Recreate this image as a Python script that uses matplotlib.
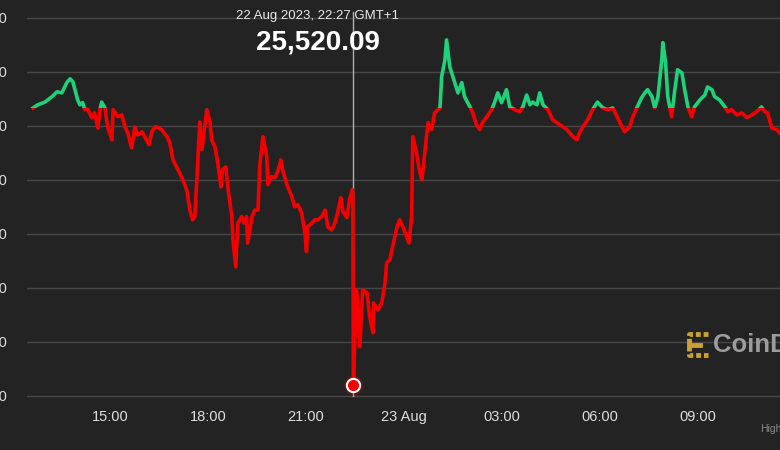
import matplotlib
matplotlib.use("Agg")
import matplotlib.pyplot as plt
from matplotlib.patches import Rectangle
from matplotlib.lines import Line2D

plt.rcParams['font.family'] = ['Liberation Sans', 'DejaVu Sans']

# minutes since 00:00 on 22 Aug 2023 (GMT+1)
MINUTES = [
    759, 768, 781, 794, 803, 812, 821, 827, 832, 836, 841, 845, 850, 854, 860, 867,
    872, 878, 882, 885, 891, 896, 904, 906, 915, 922, 928, 933, 940, 946, 951, 959,
    964, 972, 977, 983, 986, 995, 1005, 1010, 1016, 1025, 1034, 1041, 1047, 1052,
    1056, 1060, 1065, 1069, 1074, 1078, 1084, 1087, 1093, 1098, 1104, 1107, 1113,
    1117, 1124, 1126, 1131, 1135, 1142, 1146, 1151, 1153, 1161, 1166, 1172, 1175,
    1181, 1188, 1190, 1197, 1203, 1208, 1214, 1217, 1225, 1234, 1239, 1245, 1252,
    1258, 1261, 1263, 1271, 1276, 1282, 1289, 1295, 1300, 1307, 1313, 1318, 1324,
    1328, 1335, 1340, 1345, 1346, 1347, 1353, 1359, 1364, 1372, 1377, 1383, 1384,
    1392, 1399, 1405, 1408, 1414, 1419, 1427, 1432, 1438, 1445, 1449, 1454, 1456,
    1463, 1469, 1473, 1478, 1484, 1491, 1496, 1506, 1509, 1515, 1518, 1524, 1533,
    1539, 1546, 1551, 1561, 1566, 1573, 1579, 1584, 1592, 1601, 1606, 1612, 1619,
    1628, 1634, 1643, 1652, 1658, 1665, 1671, 1676, 1684, 1689, 1695, 1704, 1713,
    1726, 1739, 1750, 1757, 1762, 1768, 1777, 1786, 1795, 1805, 1814, 1823, 1832,
    1836, 1845, 1854, 1860, 1867, 1876, 1882, 1887, 1895, 1900, 1906, 1913, 1915,
    1920, 1924, 1931, 1937, 1942, 1950, 1955, 1961, 1968, 1973, 1983, 1992, 1997,
    2005, 2010, 2019, 2029, 2034, 2041, 2051, 2060, 2069, 2078, 2087, 2096, 2102,
    2107, 2115, 2124, 2129,
]
PRICES = [
    26033, 26039, 26044, 26054, 26063, 26061, 26080, 26087, 26082, 26067, 26048, 26039,
    26043, 26030, 26030, 26015, 26024, 25996, 26030, 26044, 26033, 25998, 25974, 26030,
    26017, 26020, 25998, 25987, 25959, 25998, 25983, 25989, 25980, 25965, 25989, 25998,
    25998, 25993, 25980, 25969, 25937, 25919, 25900, 25882, 25844, 25826, 25832, 25906,
    26007, 25956, 25998, 26030, 26006, 25974, 25961, 25932, 25887, 25919, 25924, 25882,
    25832, 25789, 25739, 25820, 25832, 25820, 25832, 25783, 25832, 25844, 25844, 25924,
    25980, 25943, 25891, 25906, 25904, 25915, 25937, 25919, 25891, 25869, 25850, 25854,
    25839, 25802, 25767, 25813, 25820, 25826, 25826, 25832, 25844, 25813, 25807, 25820,
    25839, 25867, 25841, 25830, 25863, 25882, 25869, 25520.09, 25696, 25591, 25696,
    25691, 25646, 25617, 25672, 25659, 25672, 25709, 25746, 25752, 25776, 25813, 25826,
    25813, 25794, 25783, 25832, 25980, 25950, 25913, 25900, 25950, 26006, 25993, 26024,
    26033, 26091, 26122, 26159, 26109, 26080, 26061, 26080, 26054, 26035, 26024, 26002,
    25993, 26006, 26017, 26030, 26043, 26061, 26043, 26067, 26035, 26030, 26026, 26035,
    26057, 26039, 26044, 26039, 26061, 26039, 26030, 26011, 26002, 25993, 25980, 25974,
    25987, 25998, 26011, 26030, 26044, 26033, 26030, 26033, 26015, 26006, 25989, 25998,
    26017, 26033, 26052, 26061, 26067, 26054, 26033, 26054, 26122, 26154, 26117, 26054,
    26017, 26067, 26104, 26098, 26067, 26035, 26017, 26035, 26048, 26057, 26072, 26067,
    26054, 26048, 26035, 26026, 26030, 26020, 26024, 26015, 26020, 26026, 26035, 26026,
    26024, 25996, 25993, 25987,
]

Y_TICKS = [25500, 25600, 25700, 25800, 25900, 26000, 26100, 26200]
X_TICKS = [900, 1080, 1260, 1440, 1620, 1800, 1980]
X_LABELS = ["15:00", "18:00", "21:00", "23 Aug", "03:00", "06:00", "09:00"]

HOVER_MINUTE = 1347
HOVER_PRICE = 25520.09
HOVER_LABEL = "22 Aug 2023, 22:27 GMT+1"

BG = "#232323"
GREEN = "#1fd27a"
RED = "#f50000"

baseline = PRICES[0]

fig = plt.figure(figsize=(7.8, 4.5), dpi=100, facecolor=BG)
ax = fig.add_axes([27 / 780, 46 / 450, 1 - 27 / 780, 404 / 450])
ax.set_facecolor(BG)
ax.set_xlim(748, 2130)
ax.set_ylim(25485, 26233)

for s in ax.spines.values():
    s.set_visible(False)

ax.set_yticks(Y_TICKS)
ax.set_yticklabels([f"{v:,}" for v in Y_TICKS])
ax.set_xticks(X_TICKS)
ax.set_xticklabels(X_LABELS)
ax.tick_params(axis='both', length=0, colors="#dedede", labelsize=10.5)
ax.tick_params(axis='y', pad=14.5)
ax.tick_params(axis='x', pad=4)
ax.grid(axis='y', color="#474747", linewidth=1)
ax.set_axisbelow(True)

# price line, green above the opening price and red below it
up, = ax.plot(MINUTES, PRICES, color=GREEN, lw=2.6, solid_joinstyle='round', zorder=3)
down, = ax.plot(MINUTES, PRICES, color=RED, lw=2.6, solid_joinstyle='round', zorder=3)
up.set_clip_path(Rectangle((0, baseline), 5000, 5000, transform=ax.transData))
down.set_clip_path(Rectangle((0, 0), 5000, baseline, transform=ax.transData))

# hover crosshair and point
ax.axvline(HOVER_MINUTE, ymin=0.02, ymax=0.97, color="#b0b0b0", lw=1, zorder=2)
ax.plot([HOVER_MINUTE], [HOVER_PRICE], 'o', ms=14, color=RED, alpha=0.25, mew=0, zorder=4)
ax.plot([HOVER_MINUTE], [HOVER_PRICE], 'o', ms=9.5, color=RED, mec="white", mew=1.5, zorder=5)

fig.text(318 / 780, 1 - 16 / 450, HOVER_LABEL, color="#e8e8e8", fontsize=9.5,
         ha='center', va='center')
fig.text(318 / 780, 1 - 42 / 450, f"{HOVER_PRICE:,.2f}", color="white", fontsize=20,
         fontweight='bold', ha='center', va='center')

# watermark
gold = "#c9a033"
fig.add_artist(Line2D([708 / 780, 689 / 780, 689 / 780, 708 / 780],
                      [1 - 334 / 450, 1 - 334 / 450, 1 - 355 / 450, 1 - 355 / 450],
                      color=gold, lw=3.5, linestyle=(0, (1, 0.6)),
                      solid_capstyle='round', transform=fig.transFigure))
fig.add_artist(Line2D([689 / 780, 700 / 780], [1 - 344.5 / 450, 1 - 344.5 / 450],
                      color=gold, lw=3.5, transform=fig.transFigure))
fig.text(713 / 780, 1 - 345 / 450, "CoinDesk", color="#9c9c9c", fontsize=18.5,
         fontweight='bold', ha='left', va='center')
fig.text(760 / 780, 1 - 429 / 450, "Highcharts.com", color="#8a8a8a", fontsize=7.5,
         ha='left', va='center')

fig.savefig("out.png", dpi=100, facecolor=BG)
